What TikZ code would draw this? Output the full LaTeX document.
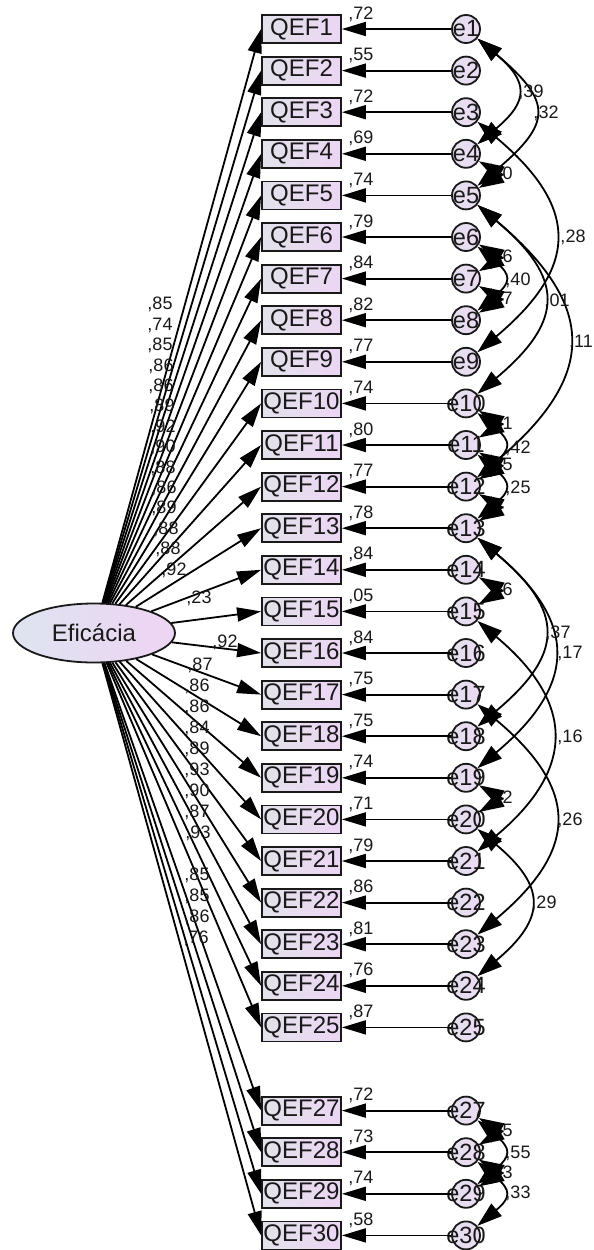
\documentclass[tikz,border=0pt]{standalone}
\usepackage{fontspec}
\setmainfont{Liberation Sans}
\usetikzlibrary{arrows.meta,shapes.geometric,calc}
\definecolor{boxl}{RGB}{226,226,234}
\definecolor{boxr}{RGB}{236,214,244}
\definecolor{ell}{RGB}{222,228,240}
\definecolor{elr}{RGB}{238,212,244}
\definecolor{cirl}{RGB}{228,224,238}
\definecolor{cirr}{RGB}{236,218,244}
\definecolor{ink}{RGB}{25,25,25}
\begin{document}
\begin{tikzpicture}[x=1pt,y=1pt,
  item/.style={draw=ink, line width=1.8pt, rectangle, minimum width=79pt, minimum height=28pt,
    inner sep=0pt, left color=boxl, right color=boxr, text=ink, font=\fontsize{24}{24}\selectfont},
  err/.style={draw=ink, line width=1.8pt, circle, minimum size=28pt, inner sep=0pt,
    left color=cirl, right color=cirr, text=ink, font=\fontsize{23.5}{23.5}\selectfont},
  lat/.style={draw=ink, line width=1.8pt, ellipse, minimum width=162pt, minimum height=59pt,
    inner sep=0pt, left color=ell, right color=elr, text=ink, font=\fontsize{24}{24}\selectfont},
  load/.style={line width=1.8pt, draw=black, -{Triangle[length=24pt,width=14pt]}},
  cov/.style={line width=1.8pt, draw=black, {Triangle[length=25pt,width=16pt]}-{Triangle[length=25pt,width=16pt]}},
  val/.style={font=\fontsize{18}{18}\selectfont, inner sep=0pt, text=ink},
]
\useasboundingbox (0,0) rectangle (594,-1250);
\fill[white] (0,0) rectangle (594,-1250);

% latent variable
\node[lat] (eff) at (94,-633) {Eficácia};

% items and errors
\foreach \i in {1,...,25,27,28,29,30} {
  \pgfmathsetmacro\yy{-(29+(\i-1)*41.6)}
  \node[item] (q\i) at (301.5,\yy) {\makebox[0pt]{QEF\i}};
  \node[err] (e\i) at (466,\yy) {\makebox[0pt]{e\i}};
}

% error -> item paths with R^2 labels
\foreach \i/\r in {1/72,2/55,3/72,4/69,5/74,6/79,7/84,8/82,9/77,10/74,11/80,12/77,13/78,14/84,
  15/05,16/84,17/75,18/75,19/74,20/71,21/79,22/86,23/81,24/76,25/87,27/72,28/73,29/74,30/58} {
  \draw[load] (e\i) -- (q\i);
  \node[val] at ([shift={(19,15)}]q\i.east) {,\r};
}

% loadings
\foreach \i/\l/\lx/\ly in {1/85/160/304,2/74/160/325,3/85/160/345,4/86/161/366,5/86/161/386,
  6/89/162/406,7/92/163/427,8/90/163/447,9/88/163/468,10/86/164/488,11/89/164/508,
  12/88/166/529,13/88/168/549,14/92/174/570,15/23/199/598,16/92/225/642,
  17/87/200/665,18/86/197/686,19/86/197/707,20/84/197/728,21/89/197/749,22/93/197/770,
  23/90/197/791,24/87/197/812,25/93/198/833,27/85/197/875,28/85/197/896,29/86/197/917,30/76/196/938} {
  \draw[load] (eff) -- (q\i.west);
  \node[val] at (\lx,-\ly) {,\l};
}

% partly hidden labels of short covariances
\foreach \a/\b/\v in {4/5/30,6/7/26,7/8/27,10/11/31,11/12/35,14/15/16,19/20/32,27/28/45,28/29/23} {
  \node[val] at ($(e\a)!0.5!(e\b)+(34,0)$) {,\v};
}

% short covariances
\foreach \a/\b in {4/5,6/7,7/8,10/11,11/12,12/13,14/15,19/20,27/28,28/29} {
  \draw[cov] (e\a) to[out=-30,in=30,distance=30pt] (e\b);
}

% long covariances
\foreach \a/\b/\c in {1/4/67,1/5/98,3/9/133,5/10/114,5/12/157,6/8/44,10/12/44,11/13/44,
  13/18/114,13/19/131,15/21/128,17/23/133,20/24/90,27/29/44,28/30/44} {
  \draw[cov] (e\a) to[out=-40,in=40,distance=\c pt] (e\b);
}

% covariance labels
\foreach \t/\lx/\ly in {39/531/92,32/546/113,28/573/237,40/518/280,01/557/301,11/581/342,
  42/518/448,25/518/488,37/558/633,17/570/653,16/570/737,26/570/820,29/544/903,
  55/518/1153,33/518/1193} {
  \node[val] at (\lx,-\ly) {,\t};
}
\end{tikzpicture}
\end{document}
